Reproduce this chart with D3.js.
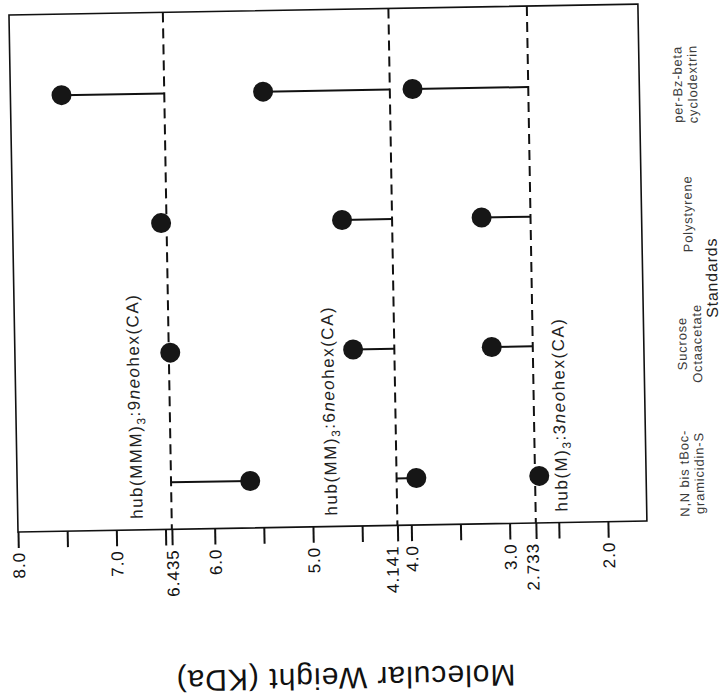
<!DOCTYPE html>
<html>
<head>
<meta charset="utf-8">
<title>Molecular weight vs standards</title>
<script src="https://cdn.jsdelivr.net/npm/d3@7"></script>
<style>
    body { margin: 0; background: #fff; }
    svg { font-family: "Liberation Sans", Arial, sans-serif; }
    .frame { fill: none; stroke: #111; stroke-width: 1.6; }
    .ref { stroke: #111; stroke-width: 2; stroke-dasharray: 10,6; }
    .stem { stroke: #111; stroke-width: 2; }
    .dot { fill: #161616; }
    .axis line { stroke: #111; stroke-width: 2; }
    .axis text { font-size: 17px; letter-spacing: 1px; fill: #111; }
    .seriesLabel { font-size: 17px; letter-spacing: 1.5px; fill: #222; }
    .catLabel { font-size: 13px; letter-spacing: 0.8px; fill: #3a3a3a; }
    .axisTitle { font-size: 30px; letter-spacing: 1px; fill: #111; }
    .catTitle { font-size: 16px; letter-spacing: 0.8px; fill: #222; }
</style>
</head>
<body>
<div id="chart"></div>
<script>
// categories (standards), bottom to top in the rotated figure
var categories = ['N,N bis tBoc-gramicidin-S', 'Sucrose Octaacetate', 'Polystyrene', 'per-Bz-beta cyclodextrin'];
var categoryLines = [['N,N bis tBoc-', 'gramicidin-S'], ['Sucrose', 'Octaacetate'], ['Polystyrene'], ['per-Bz-beta', 'cyclodextrin']];

// theoretical MW of each dendrimer (KDa)
var referenceMW = [6.435, 4.141, 2.733];
// measured MW against each standard (KDa)
var mmmMW = [5.63, 6.42, 6.49, 7.48];
var mmMW  = [3.94, 4.56, 4.65, 5.43];
var mMW   = [2.69, 3.15, 3.23, 3.91];

var seriesLabels = [
    [['hub(MMM)'], ['3', 'sub'], [':9'], ['neo', 'it'], ['hex(CA)']],
    [['hub(MM)'],  ['3', 'sub'], [':6'], ['neo', 'it'], ['hex(CA)']],
    [['hub(M)'],   ['3', 'sub'], [':3'], ['neo', 'it'], ['hex(CA)']]
];

var labelledTicks = [8.0, 7.0, 6.0, 5.0, 4.0, 3.0, 2.0];
var minorTicks = [7.5, 6.5, 5.5, 4.5, 3.5, 2.5];

var width = 726, height = 698;
var plotLeft = 18, plotRight = 647, plotTop = 15, plotBottom = 532;

var series = [mmmMW, mmMW, mMW].map(function(vals, i) {
    return {ref: referenceMW[i], values: vals, label: seriesLabels[i]};
});

var x = d3.scaleLinear().domain([8, 2]).range([plotLeft, 608]);
var y = d3.scalePoint().domain(categories).range([485, 96]);

var svg = d3.select('#chart').append('svg')
            .attr('width', width).attr('height', height);

// the scanned figure is tilted about a degree
var g = svg.append('g').attr('transform', 'rotate(-1,' + plotLeft + ',' + plotBottom + ')');

g.append('rect').attr('class', 'frame')
 .attr('x', plotLeft).attr('y', plotTop)
 .attr('width', plotRight - plotLeft).attr('height', plotBottom - plotTop);

// axis along the bottom
var fmt = function(d) {
    if (referenceMW.indexOf(d) >= 0) return d3.format('.3f')(d);
    if (labelledTicks.indexOf(d) >= 0) return d3.format('.1f')(d);
    return '';
};
var shift = {4.141: -6, 2.733: -4};

var axis = g.append('g').attr('class', 'axis')
            .attr('transform', 'translate(0,' + plotBottom + ')')
            .call(d3.axisBottom(x)
                    .tickValues(labelledTicks.concat(minorTicks, referenceMW))
                    .tickSize(16)
                    .tickFormat(fmt));
axis.select('.domain').remove();
axis.selectAll('text')
    .attr('transform', 'rotate(-90)')
    .attr('x', -20)
    .attr('y', function(d) { return shift[d] || 0; })
    .attr('dy', '0.35em')
    .style('text-anchor', 'end');

// dashed reference lines
g.selectAll('.ref').data(series).enter().append('line')
 .attr('class', 'ref')
 .attr('x1', function(d) { return x(d.ref); })
 .attr('x2', function(d) { return x(d.ref); })
 .attr('y1', plotTop).attr('y2', plotBottom);

// stems and dots
var pts = [];
series.forEach(function(s) {
    s.values.forEach(function(v, j) {
        pts.push({ref: s.ref, value: v, cat: categories[j]});
    });
});

g.selectAll('.stem').data(pts).enter().append('line')
 .attr('class', 'stem')
 .attr('x1', function(d) { return x(d.ref); })
 .attr('x2', function(d) { return x(d.value); })
 .attr('y1', function(d) { return y(d.cat); })
 .attr('y2', function(d) { return y(d.cat); });

g.selectAll('.dot').data(pts).enter().append('circle')
 .attr('class', 'dot')
 .attr('cx', function(d) { return x(d.value); })
 .attr('cy', function(d) { return y(d.cat); })
 .attr('r', 10);

// series labels next to the dashed lines
var labelDx = [-35, -66, 26];
series.forEach(function(s, i) {
    var t = g.append('text').attr('class', 'seriesLabel')
             .attr('transform', 'translate(' + (x(s.ref) + labelDx[i]) + ',521) rotate(-90)')
             .attr('dy', '0.35em');
    s.label.forEach(function(p) {
        var sp = t.append('tspan').text(p[0]);
        if (p[1] === 'sub') sp.attr('font-size', '12px').attr('dy', '0.35em');
        if (p[1] === 'it') sp.attr('font-style', 'italic');
    });
    // undo the subscript shift on the part after it
    t.selectAll('tspan').filter(function(d, k) { return k === 2; }).attr('dy', '-0.3em');
});

// category labels on the right
categories.forEach(function(c, j) {
    var lines = categoryLines[j];
    var t = g.append('text').attr('class', 'catLabel')
             .attr('transform', 'translate(' + (plotRight + 46) + ',' + y(c) + ') rotate(-90)')
             .style('text-anchor', 'middle');
    lines.forEach(function(l, k) {
        t.append('tspan').attr('x', 0)
         .attr('dy', k === 0 ? (lines.length === 1 ? '0.35em' : '-0.25em') : '1.15em')
         .text(l);
    });
});

g.append('text').attr('class', 'catTitle')
 .attr('transform', 'translate(716,290) rotate(-90)')
 .attr('dy', '0.35em')
 .style('text-anchor', 'middle')
 .text('Standards');

g.append('text').attr('class', 'axisTitle')
 .attr('transform', 'translate(343,684) rotate(180)')
 .attr('dy', '0.35em')
 .style('text-anchor', 'middle')
 .text('Molecular Weight (KDa)');
</script>
</body>
</html>
